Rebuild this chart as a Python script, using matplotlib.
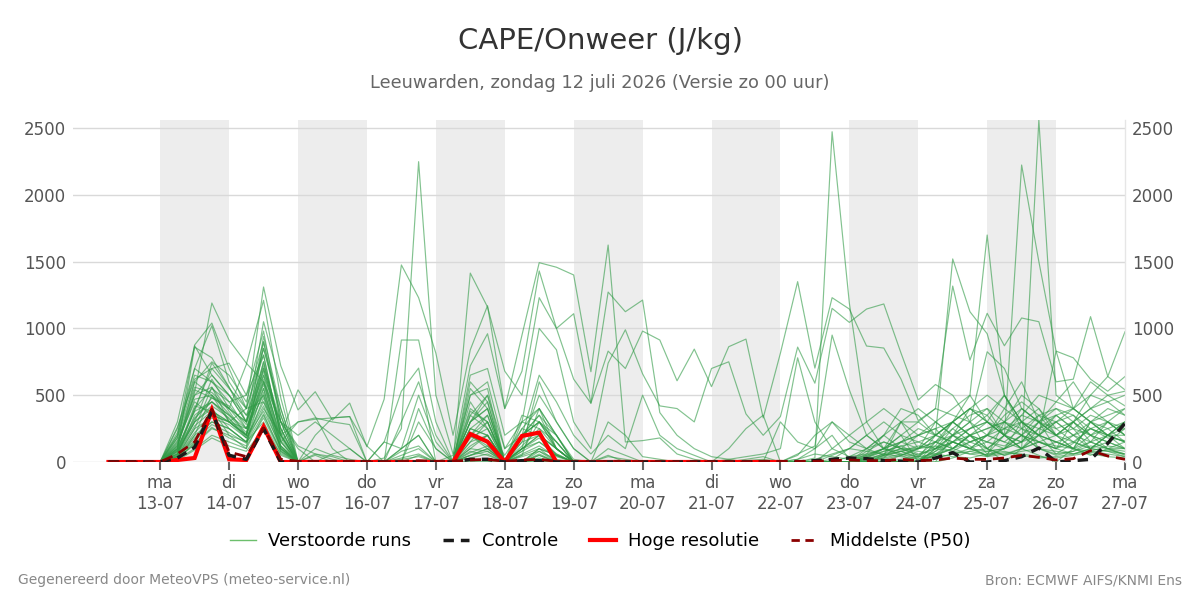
import matplotlib
matplotlib.use("Agg")
import matplotlib.pyplot as plt
from matplotlib.lines import Line2D
import pandas as pd

# ---------------- data ----------------
times = pd.date_range("2026-07-12 06:00", periods=60, freq="6h")
day_ticks = pd.date_range("2026-07-13", "2026-07-27", freq="D")
day_names = ["ma", "di", "wo", "do", "vr", "za", "zo"]
shade_starts = pd.date_range("2026-07-13", "2026-07-25", freq="2D")

hres = [0,0,0, 0,15,30,390, 20,15,265,0, 0,0,0,0, 0,0,0,0, 0,0,210,152,
        0,195,220,0, 0,0,0,0, 0,0,0,0, 0,0,0,0, 0]
control = [0,0,0, 0,30,110,380, 50,20,250,0, 0,0,0,0, 0,0,0,0, 0,0,20,20,
           0,10,10,0, 0,0,0,0, 0,0,0,0, 0,0,0,0, 0,0,10,20, 30,25,10,5,
           0,30,70,0, 0,10,40,105, 0,10,20,140, 290]
p50 = [0,0,0, 0,60,150,395, 75,40,255,20, 5,5,5,5, 0,0,5,10, 5,5,15,20,
       5,15,20,5, 0,0,5,5, 0,0,0,0, 0,0,0,5, 5,5,5,10, 15,10,10,20,
       10,15,30,20, 20,30,50,35, 15,25,85,45, 20]

m01 = [0,0,0, 0,120,520,1190, 913,740,600,300, 120,60,20,0, 0,30,250,2248, 500,60,200,120, 0,80,300,200, 20,0,40,20, 0,10,0,0, 0,0,10,20, 0,0,30,2472, 1190,300,100,60, 20,80,200,120, 40,100,300,200, 60,140,250,180, 160]
m02 = [0,0,0, 0,200,876,1040, 700,400,1310,720, 390,526,314,441, 115,470,1475,1230, 815,200,840,1170, 400,950,1492,1458, 1400,676,1624,150, 160,180,60,20, 0,0,20,40, 0,60,120,950, 540,200,100,80, 40,120,300,200, 60,200,400,300, 100,300,500,640, 540]
m03 = [0,0,0, 0,100,860,780, 560,300,1050,580, 0,100,50,20, 0,0,913,913, 300,0,1414,1160, 680,500,1230,1000, 620,440,1272,1125, 1212,370,200,100, 40,20,0,0, 0,20,60,40, 20,0,50,80, 30,200,1520,1125, 960,500,300,100, 80,60,100,200, 300]
m04 = [0,0,0, 0,80,300,620, 400,730,1210,480, 0,200,330,340, 0,150,530,703, 0,50,720,960, 400,680,1430,1000, 1110,440,830,700, 980,913,608,845, 564,863,920,330, 815,1350,703,1230, 1145,868,853,620, 310,400,1317,763, 1113,870,1078,1050, 600,620,1088,640, 975]
m05 = [0,0,0, 0,60,400,700, 740,500,980,300, 0,0,60,100, 0,0,80,120, 0,0,650,700, 200,300,1000,840, 300,100,740,990, 660,420,400,300, 700,750,360,200, 340,860,590,1150, 1045,1145,1183,815, 464,580,500,300, 825,700,400,300, 200,300,400,500, 420]
m06 = [0,0,0, 0,40,250,560, 300,200,940,400, 0,60,40,0, 0,0,30,60, 0,20,500,600, 100,200,650,450, 200,60,200,100, 500,200,100,50, 0,20,40,60, 100,780,300,100, 40,100,200,300, 200,300,400,500, 1699,500,300,200, 830,780,620,530, 640]
m07 = [0,0,0, 0,20,150,400, 200,100,900,300, 0,0,0,0, 0,0,20,40, 0,10,300,400, 0,100,600,300, 100,0,300,200, 40,20,0,0, 0,0,0,0, 0,20,100,300, 200,300,400,300, 100,200,300,400, 300,200,2223,1500, 830,400,300,200, 100]
m08 = [0,0,0, 0,10,200,500, 300,400,800,200, 0,0,0,0, 0,0,0,0, 0,0,200,300, 0,50,400,200, 0,0,100,50, 0,0,0,0, 0,0,0,0, 0,0,0,20, 100,200,300,200, 0,100,200,300, 100,0,100,2560, 500,400,300,200, 200]
m09 = [0,0,0, 0,300,870,650, 500,300,750,200, 0,50,0,0, 0,0,50,100, 0,0,400,300, 0,200,300,100, 0,0,50,0, 0,0,0,0, 0,100,250,350, 0,0,0,0, 40,60,100,200, 150,200,300,400, 500,400,300,200, 300,400,600,500, 530]
m10 = [0,0,0, 0,100,600,500, 400,300,700,250, 0,0,0,0, 0,0,0,0, 0,0,150,200, 0,100,200,100, 0,0,0,0, 0,0,0,0, 0,0,0,0, 300,150,100,200, 20,50,100,150, 100,150,200,250, 300,200,100,150, 200,300,400,450, 500]
m11 = [0,0,0, 0,50,350,450, 350,200,650,150, 300,330,300,280, 0,0,0,300, 100,0,550,400, 0,150,500,300, 100,0,0,0, 0,0,0,0, 0,0,0,0, 0,0,0,0, 0,30,80,120, 60,100,150,200, 100,50,100,200, 300,200,100,150, 250]
m12 = [0,0,0, 0,150,450,350, 300,250,550,100, 0,0,0,0, 0,0,100,200, 0,0,300,500, 100,300,400,200, 0,0,0,0, 0,0,0,0, 0,0,0,0, 0,0,0,0, 0,0,0,0, 0,150,250,350, 400,300,200,100, 60,80,150,200, 300]
m13 = [0,0,0, 0,30,180,300, 250,150,400,200, 0,0,0,0, 0,0,0,0, 0,0,100,200, 0,50,100,50, 0,0,0,0, 0,0,0,0, 0,0,0,0, 0,0,0,100, 200,100,50,300, 400,300,200,100, 50,300,500,400, 200,100,300,400, 350]
m14 = [0,0,0, 0,250,700,600, 500,350,500,100, 0,0,0,0, 0,0,0,0, 0,0,200,150, 0,0,100,0, 0,0,0,0, 0,0,0,0, 0,0,0,0, 0,50,200,300, 150,100,200,100, 50,150,300,200, 100,200,300,400, 250,150,100,200, 150]
m15 = [0,0,0, 0,20,100,200, 150,100,350,80, 0,0,0,0, 0,0,0,0, 0,0,50,100, 0,0,50,0, 0,0,0,0, 0,0,0,0, 0,0,0,0, 0,0,0,0, 0,20,50,80, 100,200,150,100, 200,400,600,300, 200,100,150,300, 200]
m16 = [0,0,0, 0,80,400,550, 450,250,600,200, 0,0,0,0, 0,0,0,50, 0,0,250,350, 0,200,300,150, 0,0,0,0, 0,0,0,0, 0,0,0,0, 0,0,0,0, 0,0,30,150, 200,250,100,200, 150,100,200,350, 400,300,200,100, 80]
m17 = [0,0,0, 0,60,300,400, 250,150,480,100, 0,0,0,0, 0,0,0,0, 0,0,80,50, 0,0,0,0, 0,0,0,0, 0,0,0,0, 0,0,0,0, 0,0,0,0, 0,0,0,0, 0,50,100,200, 300,200,100,50, 0,100,200,300, 400]
m18 = [0,0,0, 0,120,500,650, 500,300,850,400, 0,0,0,0, 0,0,0,0, 0,0,350,250, 50,250,400,100, 0,0,0,0, 0,0,0,0, 0,0,0,0, 0,0,0,0, 0,40,100,200, 300,400,350,300, 400,200,150,300, 450,600,400,300, 200]
m19 = [0,0,0, 0,40,220,350, 300,200,750,250, 0,0,0,0, 0,0,0,0, 0,0,600,450, 0,100,200,100, 0,0,0,0, 0,0,0,0, 0,0,0,0, 0,0,0,0, 0,0,0,0, 0,100,200,300, 200,150,250,350, 300,200,150,100, 100]
m20 = [0,0,0, 0,70,320,480, 400,250,500,150, 0,0,0,0, 0,0,0,0, 0,0,100,80, 0,0,60,0, 0,0,0,0, 0,0,0,0, 0,0,0,0, 0,0,0,0, 0,0,50,100, 80,60,100,150, 200,300,250,200, 350,250,200,250, 300]
m21 = [0,0,0, 0,30,130,250, 200,150,300,50, 0,0,0,0, 0,0,0,0, 0,0,0,0, 0,0,0,0, 0,0,0,0, 0,0,0,0, 0,0,0,0, 0,0,20,60, 100,80,60,40, 20,50,100,60, 40,60,100,150, 120,100,80,60, 40]
m22 = [0,0,0, 0,90,420,380, 300,200,600,120, 0,0,0,0, 0,0,0,0, 0,0,450,250, 0,0,100,50, 0,0,0,0, 0,0,0,0, 0,0,0,0, 0,0,0,0, 0,0,0,0, 0,0,200,400, 300,500,250,150, 100,150,250,200, 150]
m23 = [0,0,0, 0,180,560,520, 400,300,650,300, 100,0,0,0, 0,0,300,600, 200,0,300,400, 0,200,350,100, 0,0,0,0, 0,0,0,0, 0,0,0,0, 0,0,0,50, 100,200,100,50, 0,60,150,250, 350,200,100,200, 150,100,300,250, 150]
m24 = [0,0,0, 0,220,650,600, 450,500,800,200, 300,320,330,340, 120,0,100,500, 150,0,350,500, 0,250,200,100, 0,0,0,0, 0,0,0,0, 0,0,0,0, 0,0,0,0, 0,100,150,100, 50,100,250,150, 100,200,150,300, 400,350,200,150, 100]
m25 = [0,0,0, 0,100,380,450, 350,250,620,180, 0,0,0,0, 0,0,0,400, 100,0,200,350, 0,300,250,150, 0,0,0,0, 0,0,0,0, 0,0,0,0, 0,0,0,0, 0,0,0,50, 100,300,200,150, 200,350,450,350, 200,250,350,300, 200]
m26 = [0,0,0, 0,40,200,300, 250,150,550,120, 0,0,0,0, 0,0,0,0, 0,0,150,300, 0,80,150,60, 0,0,0,0, 0,0,0,0, 0,0,0,0, 0,0,0,0, 0,0,0,0, 0,30,60,100, 150,120,200,100, 50,80,120,100, 60]
m27 = [0,0,0, 0,160,500,560, 380,200,700,250, 0,0,0,0, 0,0,0,0, 0,0,300,450, 0,120,250,100, 0,0,0,0, 0,0,0,0, 0,0,0,0, 0,0,0,0, 0,50,100,150, 200,150,100,200, 250,300,200,150, 100,200,300,350, 400]
m28 = [0,0,0, 0,10,90,180, 120,80,250,60, 0,0,0,0, 0,0,0,0, 0,0,0,0, 0,0,0,0, 0,0,0,0, 0,0,0,0, 0,0,0,0, 0,0,0,0, 0,10,30,60, 40,30,60,80, 50,70,60,40, 30,50,70,90, 60]
m29 = [0,0,0, 0,260,620,700, 550,400,450,200, 540,340,100,0, 0,0,0,0, 0,0,200,100, 0,0,80,0, 0,0,0,0, 0,0,0,0, 0,0,0,0, 0,0,0,0, 0,60,200,400, 350,200,300,500, 300,200,350,300, 250,300,150,100, 50]
m30 = [0,0,0, 0,50,250,330, 280,180,420,90, 0,0,0,0, 0,0,0,0, 0,0,50,100, 0,40,80,20, 0,0,0,0, 0,0,0,0, 0,0,0,0, 0,0,0,0, 0,20,60,100, 100,120,80,60, 80,100,200,150, 100,60,80,120, 100]
m31 = [0,0,0, 0,130,470,500, 360,220,580,160, 0,0,0,0, 0,0,0,0, 0,0,250,200, 0,150,200,50, 0,0,0,0, 0,0,0,0, 0,0,0,0, 0,0,0,0, 0,0,0,0, 0,80,150,250, 300,250,350,500, 450,400,300,200, 250]
m32 = [0,0,0, 0,80,300,420, 330,180,380,120, 0,0,0,0, 0,0,0,0, 0,0,50,80, 0,0,30,0, 0,0,0,0, 0,0,0,0, 0,0,0,0, 0,0,0,0, 0,0,0,0, 0,0,30,80, 100,50,80,100, 150,100,60,40, 30]
m33 = [0,0,0, 0,200,600,750, 650,450,900,350, 0,0,0,0, 0,0,0,0, 0,0,500,550, 0,350,300,150, 0,0,0,0, 0,0,0,0, 0,0,0,0, 0,0,0,0, 0,30,100,300, 300,200,300,400, 350,500,300,250, 350,400,500,450, 350]
m34 = [0,0,0, 0,20,140,260, 180,120,330,70, 0,0,0,0, 0,0,0,0, 0,0,30,60, 0,0,20,0, 0,0,0,0, 0,0,0,0, 0,0,0,0, 0,0,0,0, 0,0,0,20, 40,60,40,30, 60,80,50,30, 40,60,100,80, 40]
m35 = [0,0,0, 0,140,540,480, 420,280,680,220, 0,0,0,0, 0,0,0,0, 0,0,380,300, 0,200,350,200, 0,0,0,0, 0,0,0,0, 0,0,0,0, 0,0,0,0, 0,80,150,100, 200,250,300,200, 150,250,200,300, 350,250,100,200, 300]
m36 = [0,0,0, 0,60,270,380, 300,180,450,110, 0,0,0,0, 0,0,0,0, 0,0,120,200, 0,60,120,40, 0,0,0,0, 0,0,0,0, 0,0,0,0, 0,0,0,0, 0,0,40,80, 120,100,150,100, 80,100,150,250, 200,150,100,80, 60]
m37 = [0,0,0, 0,180,700,1020, 600,400,850,350, 0,0,0,0, 0,0,0,0, 0,0,250,200, 0,200,300,100, 0,0,0,0, 0,0,0,0, 0,0,0,0, 0,0,0,0, 0,0,20,50, 100,150,100,200, 250,300,400,300, 200,300,200,150, 100]
m38 = [0,0,0, 0,110,380,740, 560,350,720,300, 200,300,200,100, 0,150,100,200, 0,0,200,150, 0,100,150,50, 0,0,0,0, 0,0,0,0, 0,0,0,0, 0,0,0,0, 0,40,80,120, 150,100,80,150, 200,150,100,250, 300,350,250,200, 150]
m39 = [0,0,0, 0,40,160,280, 220,140,360,80, 0,0,0,0, 0,0,0,0, 0,0,70,120, 0,0,50,0, 0,0,0,0, 0,0,0,0, 0,0,0,0, 0,0,0,0, 0,0,0,0, 0,50,150,100, 50,100,150,200, 150,100,50,100, 150]
m40 = [0,0,0, 0,90,330,450, 320,200,520,150, 0,0,0,0, 0,0,0,0, 0,0,180,250, 0,100,180,60, 0,0,0,0, 0,0,0,0, 0,0,0,0, 0,0,0,0, 0,20,60,150, 250,200,150,100, 200,250,300,200, 150,200,250,300, 250]

members = [m01, m02, m03, m04, m05, m06, m07, m08, m09, m10,
           m11, m12, m13, m14, m15, m16, m17, m18, m19, m20,
           m21, m22, m23, m24, m25, m26, m27, m28, m29, m30,
           m31, m32, m33, m34, m35, m36, m37, m38, m39, m40]

title = "CAPE/Onweer (J/kg)"
subtitle = "Leeuwarden, zondag 12 juli 2026 (Versie zo 00 uur)"
footer_left = "Gegenereerd door MeteoVPS (meteo-service.nl)"
footer_right = "Bron: ECMWF AIFS/KNMI Ens"
legend_labels = ["Verstoorde runs", "Controle", "Hoge resolutie", "Middelste (P50)"]

# ---------------- plot ----------------
plt.rcParams['font.family'] = ['DejaVu Sans']
fig = plt.figure(figsize=(12, 6), dpi=100)
ax = fig.add_axes([0.061, 0.23, 0.8765, 0.57])

for s in shade_starts:
    ax.axvspan(s, s + pd.Timedelta(days=1), color="#ededed", zorder=0, lw=0)

ax.yaxis.grid(True, color="#d9d9d9", lw=1, zorder=1)
ax.set_axisbelow(True)

for m in members:
    ax.plot(times[:len(m)], m, color="#2f9a45", alpha=0.6, lw=0.85, zorder=2)

ax.plot(times[:len(hres)], hres, color="#ff0000", lw=3, zorder=4, solid_joinstyle="miter")
ax.plot(times[:len(control)], control, color="#1a1a1a", lw=2.5, ls=(0, (3, 2)), zorder=5)
ax.plot(times[:len(p50)], p50, color="#8b0000", lw=2, ls=(0, (4, 2.5)), zorder=6)

xmin = pd.Timestamp("2026-07-13") - pd.Timedelta(days=1.262)
ax.set_xlim(xmin, pd.Timestamp("2026-07-27"))
ax.set_ylim(0, 2560)

ax.set_xticks(day_ticks)
ax.set_xticklabels([f"{day_names[d.weekday()]}\n{d.strftime('%d-%m')}" for d in day_ticks])
ax.set_yticks([0, 500, 1000, 1500, 2000, 2500])
ax.tick_params(axis="x", colors="#666666", labelcolor="#555555", labelsize=12,
               length=6, width=1.5, pad=3)
ax.tick_params(axis="y", colors="#555555", labelsize=12, length=0, pad=5,
               labelright=True)

for side in ["left", "top", "bottom"]:
    ax.spines[side].set_visible(False)
ax.spines["right"].set_color("#e6e6e6")
ax.spines["right"].set_linewidth(1)

fig.text(0.5, 1 - 41 / 600, title, ha="center", va="center", fontsize=21, color="#333333")
fig.text(0.5, 1 - 83 / 600, subtitle, ha="center", va="center", fontsize=12.75, color="#666666")

handles = [
    Line2D([], [], color="#6cbf6c", lw=1),
    Line2D([], [], color="#1a1a1a", lw=2.5, ls=(0, (3, 2))),
    Line2D([], [], color="#ff0000", lw=3),
    Line2D([], [], color="#8b0000", lw=2, ls=(0, (3, 2))),
]
fig.legend(handles, legend_labels, loc="center", bbox_to_anchor=(0.5, 1 - 541 / 600),
           ncol=4, frameon=False, fontsize=13, handlelength=1.45, columnspacing=1.75,
           handletextpad=0.7)

fig.text(18 / 1200, 1 - 580 / 600, footer_left, ha="left", va="center", fontsize=10, color="#888888")
fig.text(1182 / 1200, 1 - 580 / 600, footer_right, ha="right", va="center", fontsize=10, color="#888888")

fig.savefig("out.png", dpi=100)
